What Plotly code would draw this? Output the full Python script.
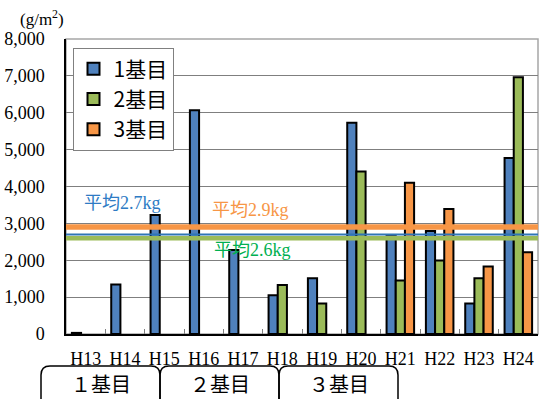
import plotly.graph_objects as go

# Fiscal years (Heisei) on the x axis
years = ["H13", "H14", "H15", "H16", "H17", "H18", "H19", "H20", "H21", "H22", "H23", "H24"]

# Amounts per unit (g/m2) for each of the three units; None = not installed yet
unit1 = [30, 1340, 3230, 6070, 2280, 1050, 1510, 5730, 2650, 2790, 830, 4770]
unit2 = [None, None, None, None, None, 1330, 830, 4410, 1450, 1990, 1510, 6960]
unit3 = [None, None, None, None, None, None, None, None, 4100, 3390, 1830, 2220]

series_names = ["1基目", "2基目", "3基目"]
series_colors = ["#4F81BD", "#9BBB59", "#F79646"]

# Averages (kg/m2) and their labels
avg_values = [2.7, 2.6, 2.9]
avg_labels = ["平均2.7kg", "平均2.6kg", "平均2.9kg"]

# Unit-period brackets under the axis
group_labels = ["１基目", "２基目", "３基目"]

W, H = 543, 399
ML, MR, MT, MB = 66, 5, 39, 65
PW, PH = W - ML - MR, H - MT - MB


def px(x):
    return (x - ML) / PW


def py(y):
    return (H - MB - y) / PH


SERIF = "Liberation Serif, Noto Sans CJK JP"
GOTHIC = "Noto Sans CJK JP"

fig = go.Figure()
for name, vals, col in zip(series_names, [unit1, unit2, unit3], series_colors):
    fig.add_trace(go.Bar(
        x=years, y=vals, name=name,
        marker=dict(color=col, line=dict(color="black", width=2)),
    ))

shapes = []
# plot-area frame
shapes.append(dict(type="rect", xref="paper", yref="paper", x0=0, x1=1, y0=0, y1=1,
                   line=dict(color="#A6A6A6", width=1.5), layer="below"))

# average lines (green under, blue, orange on top)
line_style = {
    "2.6": ("#9BBB59", 4.5),
    "2.7": ("#2E75B6", 2),
    "2.9": ("#F79646", 5.5),
}
for v in [avg_values[1], avg_values[0], avg_values[2]]:
    col, w = line_style[f"{v}"]
    shapes.append(dict(type="line", xref="paper", yref="y", x0=0, x1=1,
                       y0=v * 1000, y1=v * 1000, line=dict(color=col, width=w),
                       layer="above"))

# rounded brackets for the unit periods
r = 9
box_edges = [41, 160, 279, 398]
top, bot = 366, 430
for i in range(3):
    x0, x1 = box_edges[i], box_edges[i + 1]
    path = (f"M {px(x0)},{py(bot)} L {px(x0)},{py(top + r)} "
            f"Q {px(x0)},{py(top)} {px(x0 + r)},{py(top)} "
            f"L {px(x1 - r)},{py(top)} "
            f"Q {px(x1)},{py(top)} {px(x1)},{py(top + r)} "
            f"L {px(x1)},{py(bot)} Z")
    shapes.append(dict(type="path", xref="paper", yref="paper", path=path,
                       line=dict(color="black", width=1.5)))

annotations = []
for i, lab in enumerate(group_labels):
    cx = (box_edges[i] + box_edges[i + 1]) / 2
    annotations.append(dict(text=lab, xref="paper", yref="paper", x=px(cx), y=py(383),
                            showarrow=False, xanchor="center", yanchor="middle",
                            font=dict(family=GOTHIC, size=20, color="black")))

# average labels
avg_pos = [(122, 203, "#2E7BC4"), (252, 250, "#00B050"), (250, 210, "#F79646")]
for lab, (x, y, col) in zip(avg_labels, avg_pos):
    annotations.append(dict(text=lab, xref="paper", yref="paper", x=px(x), y=py(y),
                            showarrow=False, xanchor="center", yanchor="middle",
                            font=dict(family=SERIF, size=18, color=col)))

# unit label
annotations.append(dict(text="(g/m<sup>2</sup>)", xref="paper", yref="paper",
                        x=px(42), y=py(18), showarrow=False, xanchor="center",
                        yanchor="middle", font=dict(family=SERIF, size=17, color="black")))

fig.update_layout(
    width=W, height=H,
    margin=dict(l=ML, r=MR, t=MT, b=MB, pad=0),
    paper_bgcolor="white", plot_bgcolor="white",
    barmode="group", bargap=0.3, bargroupgap=0,
    shapes=shapes, annotations=annotations,
    legend=dict(x=px(72.5), y=py(47.5), xanchor="left", yanchor="top",
                bgcolor="white", bordercolor="#808080", borderwidth=1,
                font=dict(family=GOTHIC, size=21, color="black"),
                itemwidth=30, tracegroupgap=0),
    xaxis=dict(type="category", showline=True, linecolor="black", linewidth=1.5,
               ticks="inside", tickson="boundaries", ticklen=5, tickcolor="#808080",
               ticklabelstandoff=8, showgrid=False, tickangle=0,
               tickfont=dict(family=SERIF, size=18, color="black")),
    yaxis=dict(range=[0, 8000], dtick=1000, tickformat=",", showline=True,
               linecolor="black", linewidth=1.5, gridcolor="#7F7F7F", gridwidth=1,
               ticks="", ticklabelstandoff=16, zeroline=False,
               tickfont=dict(family=SERIF, size=18, color="black")),
    showlegend=True,
)

fig.write_html("out.html")
